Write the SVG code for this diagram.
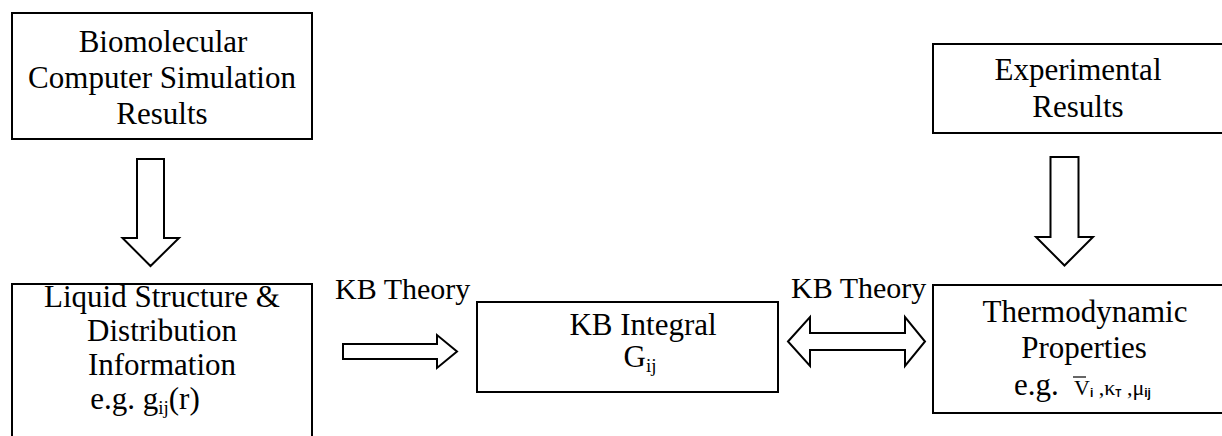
<svg xmlns="http://www.w3.org/2000/svg" width="1222" height="436" viewBox="0 0 1222 436">
  <rect width="1222" height="436" fill="#fff"/>

  <!-- shared look for all outlined shapes -->
  <g fill="#fff" stroke="#000" stroke-width="2" stroke-linejoin="miter">
    <g id="connectors">
      <!-- simulation results down to liquid structure -->
      <path d="M137 159 H164 V238 H179 L150.5 266 L122.5 238 H137 Z"/>
      <!-- experimental results down to thermodynamic properties -->
      <path d="M1050.5 157 H1078.5 V237 H1093 L1064.5 265.5 L1036 237 H1050.5 Z"/>
      <!-- KB theory: structure to integral -->
      <path d="M343 344 H437 V335 L457 351.5 L437 368 V359 H343 Z"/>
      <!-- KB theory: integral to/from thermodynamics -->
      <path d="M788 341.5 L810 317 V333 H905 V317 L925 341.5 L905 366 V350 H810 V366 Z"/>
    </g>
    <rect id="box-simulation" x="12" y="13" width="300" height="126"/>
    <rect id="box-experimental" x="933" y="44" width="292" height="89"/>
    <rect id="box-structure" x="12" y="284" width="300" height="160"/>
    <rect id="box-integral" x="477" y="302" width="301" height="90"/>
    <rect id="box-thermo" x="933" y="285" width="292" height="128"/>
  </g>

  <!-- shared look for all labels -->
  <g font-family="Liberation Serif" font-size="31" fill="#000" text-anchor="middle">
    <g id="connector-labels" font-size="30" text-anchor="start">
      <text x="335" y="299">KB Theory</text>
      <text x="791" y="298">KB Theory</text>
    </g>

    <g id="node-simulation">
      <text x="163" y="52">Biomolecular</text>
      <text x="162" y="88">Computer Simulation</text>
      <text x="162" y="124">Results</text>
    </g>

    <g id="node-experimental">
      <text x="1078" y="80">Experimental</text>
      <text x="1078" y="117">Results</text>
    </g>

    <g id="node-structure">
      <text x="162" y="307">Liquid Structure &amp;</text>
      <text x="162" y="341">Distribution</text>
      <text x="162" y="375">Information</text>
      <text x="145" y="409">e.g. g<tspan font-size="19" dy="5">ij</tspan><tspan dy="-5">(r)</tspan></text>
    </g>

    <g id="node-integral">
      <text x="643" y="335">KB Integral</text>
      <text x="640" y="367">G<tspan font-size="19" dy="5">ij</tspan></text>
    </g>

    <g id="node-thermo">
      <text x="1085" y="322">Thermodynamic</text>
      <text x="1084" y="358">Properties</text>
      <text x="1014" y="395" text-anchor="start">e.g.</text>
      <text x="1074" y="395" font-size="22" text-anchor="start">V<tspan font-family="Liberation Sans" font-size="12" font-weight="bold" dy="2">i</tspan><tspan dy="-2"> ,</tspan>&#954;<tspan font-family="Liberation Sans" font-size="10" font-weight="bold" dy="2">T</tspan><tspan dy="-2"> ,</tspan>&#956;<tspan font-family="Liberation Sans" font-size="12" font-weight="bold" dy="2">ij</tspan></text>
      <line x1="1073" y1="377" x2="1086" y2="377" stroke="#000" stroke-width="1.2"/>
    </g>
  </g>
</svg>
